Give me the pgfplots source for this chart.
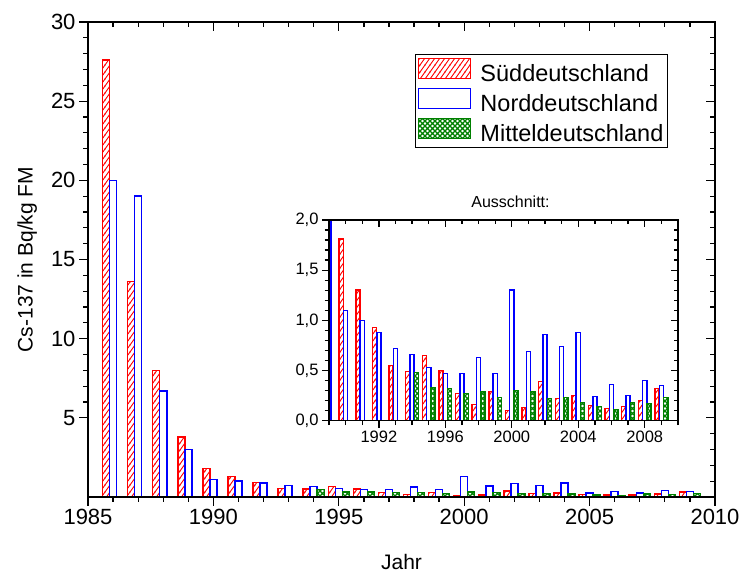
\documentclass[border=0pt]{standalone}
\usepackage{fontspec}
\setmainfont{Liberation Sans}
\usepackage{pgfplots}
\usepackage{pgfplotstable}
\pgfplotsset{compat=1.18}
\usetikzlibrary{patterns}
\definecolor{ored}{RGB}{255,0,0}
\definecolor{oblue}{RGB}{0,0,255}
\definecolor{ogreen}{RGB}{0,128,0}

\pgfdeclarepatternformonly{suedlines}{\pgfqpoint{-1pt}{-1pt}}{\pgfqpoint{6pt}{8pt}}{\pgfqpoint{5pt}{7pt}}{%
  \pgfsetlinewidth{0.9pt}%
  \pgfpathmoveto{\pgfqpoint{-0.5pt}{-0.7pt}}%
  \pgfpathlineto{\pgfqpoint{5.5pt}{7.7pt}}%
  \pgfusepath{stroke}}
\pgfdeclarepatternformonly{mittelhatch}{\pgfqpoint{-1pt}{-1pt}}{\pgfqpoint{6pt}{6pt}}{\pgfqpoint{5pt}{5pt}}{%
  \pgfsetlinewidth{1.1pt}%
  \pgfpathmoveto{\pgfqpoint{-0.5pt}{-0.5pt}}%
  \pgfpathlineto{\pgfqpoint{5.5pt}{5.5pt}}%
  \pgfpathmoveto{\pgfqpoint{-0.5pt}{5.5pt}}%
  \pgfpathlineto{\pgfqpoint{5.5pt}{-0.5pt}}%
  \pgfusepath{stroke}}

\pgfplotstableread{
year sued nord
1986 27.6 20.0
1987 13.6 19.0
1988 8.0 6.7
1989 3.8 3.0
1990 1.81 1.10
1991 1.30 1.00
1992 0.93 0.88
1993 0.55 0.72
1994 0.49 0.66
1995 0.65 0.53
1996 0.50 0.47
1997 0.27 0.47
1998 0.16 0.63
1999 0.29 0.47
2000 0.10 1.30
2001 0.13 0.69
2002 0.39 0.86
2003 0.22 0.74
2004 0.25 0.88
2005 0.15 0.24
2006 0.12 0.36
2007 0.14 0.25
2008 0.20 0.40
2009 0.32 0.35
}\maindata

\pgfplotstableread{
year mittel
1994 0.48
1995 0.33
1996 0.32
1997 0.27
1998 0.29
1999 0.23
2000 0.30
2001 0.29
2002 0.22
2003 0.23
2004 0.18
2005 0.14
2006 0.11
2007 0.18
2008 0.17
2009 0.23
}\mitteldata

\tikzset{
  sued/.style={draw=ored, line width=1.5pt, pattern=suedlines, pattern color=ored},
  nord/.style={draw=oblue, line width=1.5pt, fill=white},
  mittel/.style={draw=ogreen, line width=1.5pt, pattern=mittelhatch, pattern color=ogreen},
}
\pgfplotsset{
  mylegend/.style={legend image code/.code={\draw[##1,line width=1.5pt] (5pt,-5pt) rectangle (57pt,15pt); \path (64pt,0pt);}},
  common/.style={
    scale only axis,
    axis line style={line width=1.4pt},
    every tick/.append style={black, line width=1.3pt},
    every minor tick/.append style={black, line width=1.3pt},
    /pgf/number format/1000 sep={},
    /pgf/number format/assume math mode=true,
  },
}

\begin{document}
\begin{tikzpicture}
\useasboundingbox (0,0) rectangle (740pt,576pt);
% main axis
\begin{axis}[common,
  at={(88pt,79pt)}, anchor=south west,
  width=627pt, height=475pt,
  xmin=1985, xmax=2010, ymin=0, ymax=30,
  xtick={1985,1990,...,2010}, minor x tick num=4,
  ytick={5,10,...,30}, minor y tick num=4,
  tick align=outside, xtick pos=bottom, ytick pos=left,
  major tick length=9pt, minor tick length=5pt,
  tick label style={font=\fontsize{22}{24}\selectfont},
  xlabel=Jahr, ylabel={Cs-137 in Bq/kg FM},
  label style={font=\fontsize{21}{24}\selectfont},
  xlabel style={at={(axis description cs:0.5,-0.136)}, anchor=center},
  ylabel style={at={(axis description cs:-0.097,0.5)}, anchor=center},
  legend style={at={(0.5215,0.9326)}, anchor=north west, draw=black, line width=1pt,
    font=\fontsize{23.5}{25}\selectfont, legend cell align=left, row sep=3pt,
    inner xsep=2.5pt, inner ysep=3pt},
]
\addplot[ybar, bar width=0.28, bar shift=-0.28, sued, mylegend] table[x=year,y=sued]{\maindata};
\addlegendentry{Süddeutschland}
\addplot[ybar, bar width=0.28, bar shift=0, nord, mylegend] table[x=year,y=nord]{\maindata};
\addlegendentry{Norddeutschland}
\addplot[ybar, bar width=0.28, bar shift=0.28, mittel, mylegend] table[x=year,y=mittel]{\mitteldata};
\addlegendentry{Mitteldeutschland}
\end{axis}
% main: inward ticks top/right
\begin{axis}[common,
  at={(88pt,79pt)}, anchor=south west,
  width=627pt, height=475pt,
  xmin=1985, xmax=2010, ymin=0, ymax=30,
  xtick={1985,1990,...,2010}, minor x tick num=4,
  ytick={0,5,...,30}, minor y tick num=4,
  tick align=inside, xtick pos=top, ytick pos=right,
  major tick length=9pt, minor tick length=5pt,
  xticklabels={}, yticklabels={},
]
\end{axis}
% inset
\begin{axis}[common,
  at={(329pt,155.3pt)}, anchor=south west,
  width=349pt, height=200.7pt,
  xmin=1989, xmax=2010, ymin=0, ymax=2,
  xtick={1992,1996,...,2008}, minor xtick={1989,...,2010},
  ytick={0,0.5,...,2}, minor y tick num=4,
  tick align=outside, xtick pos=bottom, ytick pos=left,
  major tick length=7pt, minor tick length=4.5pt,
  tick label style={font=\fontsize{16.5}{18}\selectfont},
  yticklabel style={/pgf/number format/.cd, fixed, fixed zerofill, precision=1, use comma},
  title={Ausschnitt:},
  title style={at={(axis description cs:0.5,1)}, anchor=south, yshift=3pt, xshift=7pt, font=\fontsize{16}{18}\selectfont},
]
\addplot[ybar, bar width=0.25, bar shift=-0.26, sued] table[x=year,y=sued]{\maindata};
\addplot[ybar, bar width=0.25, bar shift=0, nord] table[x=year,y=nord]{\maindata};
\addplot[ybar, bar width=0.25, bar shift=0.26, mittel] table[x=year,y=mittel]{\mitteldata};
\end{axis}
\begin{axis}[common,
  at={(329pt,155.3pt)}, anchor=south west,
  width=349pt, height=200.7pt,
  xmin=1989, xmax=2010, ymin=0, ymax=2,
  xtick={1992,1996,...,2008}, minor xtick={1989,...,2010},
  ytick={0,0.5,...,2}, minor y tick num=4,
  tick align=inside, xtick pos=top, ytick pos=right,
  major tick length=7pt, minor tick length=4.5pt,
  xticklabels={}, yticklabels={},
]
\end{axis}
\end{tikzpicture}
\end{document}
